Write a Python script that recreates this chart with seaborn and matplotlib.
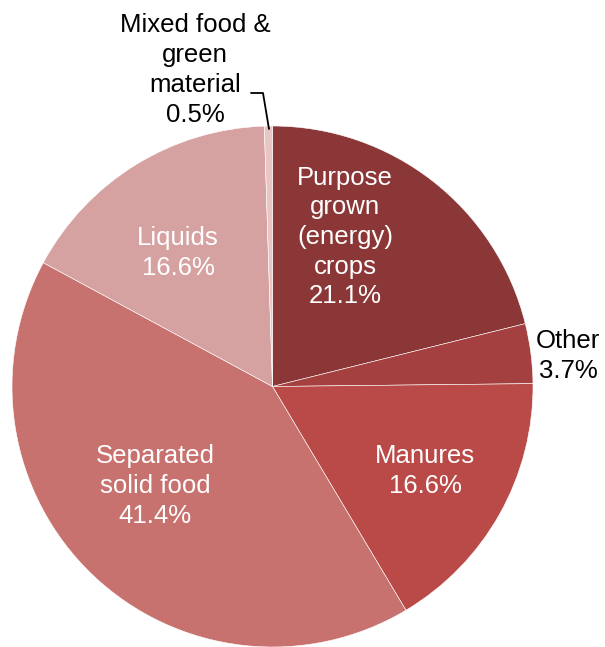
import seaborn as sns
import matplotlib.pyplot as plt

# data
labels = ["Purpose\ngrown\n(energy)\ncrops", "Other", "Manures",
          "Separated\nsolid food", "Liquids", "Mixed food &\ngreen\nmaterial"]
shares = [21.1, 3.7, 16.6, 41.4, 16.6, 0.5]
colours = ["#8C3737", "#A54040", "#B94A47", "#C8726F", "#D6A2A1", "#E8C6C6"]
text_colours = ["white", "black", "white", "white", "white", "black"]

sns.set_theme(style="white")
plt.rcParams["font.family"] = ["Liberation Sans", "DejaVu Sans"]

fig = plt.figure(figsize=(6.05, 6.47), dpi=100)
ax = fig.add_axes([0, 0, 1, 1])

cx, cy, r = 272.5, 260.5, 260.5
ax.pie(shares, colors=colours, startangle=90, counterclock=False,
       center=(cx, cy), radius=r, frame=True,
       wedgeprops=dict(edgecolor="white", linewidth=0.4))
ax.set_xlim(0, 605)
ax.set_ylim(0, 647)
ax.set_aspect("equal")
ax.axis("off")

# label positions (pixel coords, y from bottom)
pos = [(345, 410), (568, 291), (425, 176), (155, 161), (178, 394), (195, 577)]
for lab, val, (x, y), tc in zip(labels, shares, pos, text_colours):
    ax.text(x, y, f"{lab}\n{val}%", ha="center", va="center", color=tc,
            fontsize=18.5, linespacing=1.3)

# leader line for the tiny slice
ax.plot([269, 263, 251], [518, 554, 554], color="black", lw=1.3)

fig.savefig("out.png", dpi=100)
